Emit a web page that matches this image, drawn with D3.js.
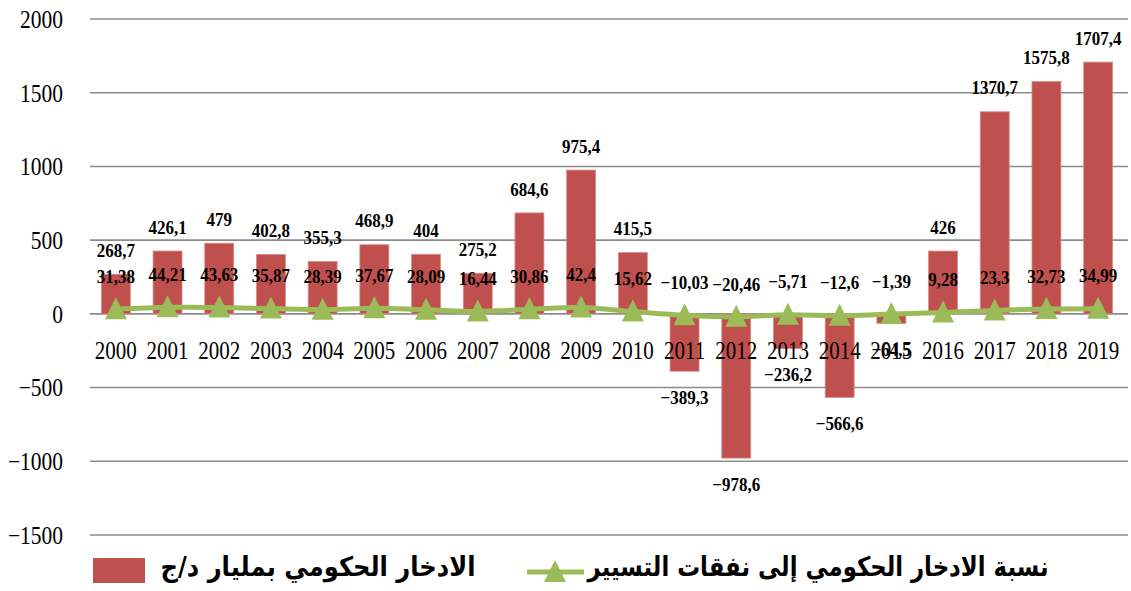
<!DOCTYPE html>
<html>
<head>
<meta charset="utf-8">
<script src="https://cdnjs.cloudflare.com/ajax/libs/d3/7.8.5/d3.min.js"></script>
<style>
  body { margin: 0; background: #fff; }
  svg { display: block; }
</style>
</head>
<body>
<div id="chart"></div>
<script>
// Data
const years = ["2000","2001","2002","2003","2004","2005","2006","2007","2008","2009",
               "2010","2011","2012","2013","2014","2015","2016","2017","2018","2019"];
const savings = [268.7, 426.1, 479, 402.8, 355.3, 468.9, 404, 275.2, 684.6, 975.4,
                 415.5, -389.3, -978.6, -236.2, -566.6, -64.5, 426, 1370.7, 1575.8, 1707.4];
const ratio = [31.38, 44.21, 43.63, 35.87, 28.39, 37.67, 28.09, 16.44, 30.86, 42.4,
               15.62, -10.03, -20.46, -5.71, -12.6, -1.39, 9.28, 23.3, 32.73, 34.99];
const yTicks = [2000, 1500, 1000, 500, 0, -500, -1000, -1500];
const barName = "الادخار الحكومي بمليار د/ج";
const lineName = "نسبة الادخار الحكومي إلى نفقات التسيير";

const width = 1131, height = 591;
const barColor = "#c0504d", lineColor = "#9bbb59";

const svg = d3.select("#chart").append("svg")
    .attr("width", width)
    .attr("height", height);

// Scales
const x = d3.scaleBand().domain(years).range([90, 1124]).paddingInner(0.44).paddingOuter(0.22);
const y = d3.scaleLinear().domain([-1500, 2000]).range([535, 19]);
const cx = i => x(years[i]) + x.bandwidth() / 2;

// number format with comma decimal and real minus sign
const fmt = v => String(v).replace(".", ",").replace("-", "\u2212");

// the source picture is a bit stretched vertically, so texts are too
const place = (px, py, sy) => `translate(${px},${py}) scale(1,${sy})`;

// Gridlines
svg.append("g")
    .selectAll("line")
    .data(yTicks)
    .enter()
    .append("line")
        .attr("x1", 90).attr("x2", 1128)
        .attr("y1", d => y(d)).attr("y2", d => y(d))
        .style("stroke", "#8c8c8c")
        .style("stroke-width", 1.6);

// Y tick labels
svg.append("g")
    .selectAll("text")
    .data(yTicks)
    .enter()
    .append("text")
        .attr("transform", d => place(63, y(d), 1.18))
        .attr("dy", "0.35em")
        .attr("text-anchor", "end")
        .style("font-family", "'Liberation Serif', serif")
        .style("font-size", "21.5px")
        .text(d => fmt(d));

// Bars
svg.append("g")
    .selectAll("rect")
    .data(savings)
    .enter()
    .append("rect")
        .attr("x", (d, i) => x(years[i]))
        .attr("width", x.bandwidth())
        .attr("y", d => y(Math.max(0, d)))
        .attr("height", d => Math.abs(y(d) - y(0)))
        .attr("fill", barColor)
        .style("stroke", "#d98c8a")
        .style("stroke-width", 0.8);

// Category labels
svg.append("g")
    .selectAll("text")
    .data(years)
    .enter()
    .append("text")
        .attr("transform", (d, i) => place(cx(i), 350, 1.18))
        .attr("dy", "0.35em")
        .attr("text-anchor", "middle")
        .style("font-family", "'Liberation Serif', serif")
        .style("font-size", "21px")
        .text(d => d);

// Line (smooth)
const line = d3.line()
    .x((d, i) => cx(i))
    .y(d => y(d))
    .curve(d3.curveCatmullRom.alpha(0.5));

svg.append("path")
    .datum(ratio)
    .attr("d", line)
    .attr("fill", "none")
    .style("stroke", lineColor)
    .style("stroke-width", 5)
    .style("stroke-linecap", "round");

// Triangle markers (a bit taller than wide, like the source)
const triPath = "M0,-12L11,10L-11,10Z";
svg.append("g")
    .selectAll("path")
    .data(ratio)
    .enter()
    .append("path")
        .attr("d", triPath)
        .attr("transform", (d, i) => `translate(${cx(i)},${y(d)})`)
        .attr("fill", lineColor);

// Bar value labels
svg.append("g")
    .selectAll("text")
    .data(savings)
    .enter()
    .append("text")
        .attr("transform", (d, i) => place(cx(i), d >= 0 ? y(d) - 24 : y(d) + 26, 1.12))
        .attr("dy", "0.35em")
        .attr("text-anchor", "middle")
        .style("font-family", "'Liberation Serif', serif")
        .style("font-weight", "bold")
        .style("font-size", "17px")
        .text(d => fmt(d));

// Ratio labels
svg.append("g")
    .selectAll("text")
    .data(ratio)
    .enter()
    .append("text")
        .attr("transform", (d, i) => place(cx(i), y(d) - 33, 1.12))
        .attr("dy", "0.35em")
        .attr("text-anchor", "middle")
        .style("font-family", "'Liberation Serif', serif")
        .style("font-weight", "bold")
        .style("font-size", "17px")
        .text(d => fmt(d));

// Legend
const legend = svg.append("g");
legend.append("rect")
    .attr("x", 93).attr("y", 558)
    .attr("width", 52).attr("height", 25)
    .attr("fill", barColor);
legend.append("text")
    .attr("x", 318).attr("y", 567)
    .attr("dy", "0.35em")
    .attr("text-anchor", "middle")
    .attr("textLength", 315)
    .attr("lengthAdjust", "spacingAndGlyphs")
    .style("font-family", "'DejaVu Sans', sans-serif")
    .style("font-weight", "bold")
    .style("font-size", "27px")
    .text(barName);

legend.append("line")
    .attr("x1", 527).attr("x2", 584)
    .attr("y1", 572).attr("y2", 572)
    .style("stroke", lineColor)
    .style("stroke-width", 5);
legend.append("path")
    .attr("d", triPath)
    .attr("transform", "translate(555,572)")
    .attr("fill", lineColor);
legend.append("text")
    .attr("x", 818).attr("y", 567)
    .attr("dy", "0.35em")
    .attr("text-anchor", "middle")
    .attr("textLength", 461)
    .attr("lengthAdjust", "spacingAndGlyphs")
    .style("font-family", "'DejaVu Sans', sans-serif")
    .style("font-weight", "bold")
    .style("font-size", "27px")
    .text(lineName);
</script>
</body>
</html>
